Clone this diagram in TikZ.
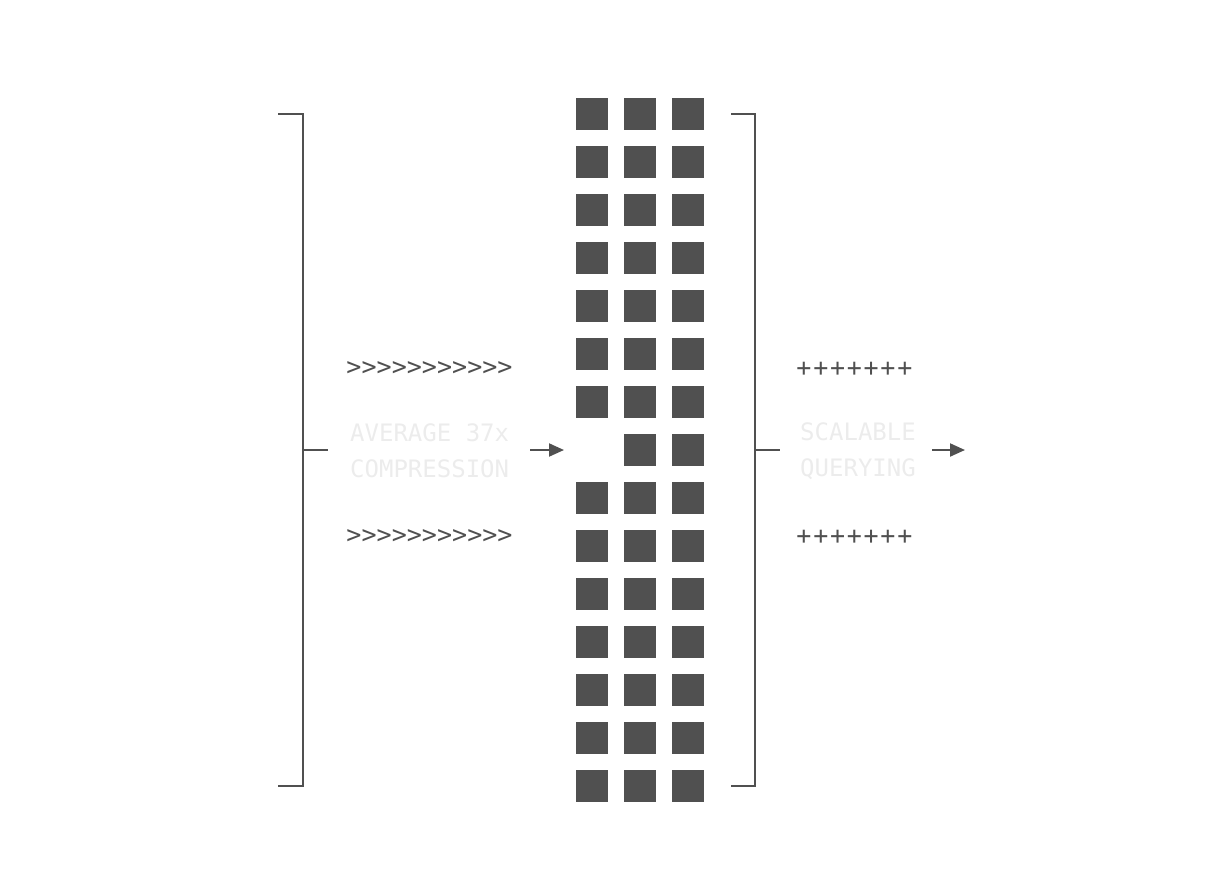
\documentclass[tikz,border=0pt]{standalone}
\usepackage{fontspec}
\setmonofont{DejaVu Sans Mono}
\usetikzlibrary{arrows.meta, positioning}
\definecolor{inkgray}{HTML}{505050}
\definecolor{fadegray}{HTML}{ECECEC}
\tikzset{
    x=1pt, y=-1pt,% one unit is one pixel of the layout, y runs downwards
    cell/.style = {rectangle, fill=inkgray, inner sep=0pt, minimum size=32pt}, % one block of the column grid
    glyph/.style = {inner sep=0pt, text=inkgray, font=\ttfamily\fontsize{25}{36}\selectfont},
    faded/.style = {inner sep=0pt, anchor=west, align=left, text=fadegray, font=\ttfamily\fontsize{24}{36}\selectfont},
    rule/.style = {draw=inkgray, line width=2pt},
    pointer/.style = {rule, -{Triangle[length=15pt, width=13pt]}}
}
\begin{document}
\begin{tikzpicture}
    \useasboundingbox (0,0) rectangle (1212,892);
    % grid of blocks, one gap in the first column
    \foreach \r in {0,...,6,8,9,...,14}
        \node[cell] (cellA\r) at (592,114+48*\r) {};
    \foreach \r in {0,...,14} {
        \node[cell] (cellB\r) at (640,114+48*\r) {};
        \node[cell] (cellC\r) at (688,114+48*\r) {};
    }
    % left bracket
    \coordinate (lbTop) at (278,114);
    \coordinate (lbBot) at (278,786);
    \coordinate (lbMid) at (303,450);
    \coordinate (lbTick) at (328,450);
    \draw[rule] (lbTop) -| (lbMid) |- (lbBot);
    \draw[rule] (lbMid) -- (lbTick);
    % right bracket
    \coordinate (rbTop) at (731,114);
    \coordinate (rbBot) at (731,786);
    \coordinate (rbMid) at (755,450);
    \coordinate (rbTick) at (780,450);
    \draw[rule] (rbTop) -| (rbMid) |- (rbBot);
    \draw[rule] (rbMid) -- (rbTick);
    % labels
    \node[faded] (compress) at (350,451) {AVERAGE 37x\\COMPRESSION};
    \node[faded] (query) at (800,451) {SCALABLE\\QUERYING};
    \foreach \i in {0,...,10} {
        \node[glyph] (chevUp\i) at (354+15.1*\i,369) {>};
        \node[glyph] (chevDn\i) at (354+15.1*\i,537) {>};
    }
    \foreach \i in {0,...,6} {
        \node[glyph] (plusUp\i) at (804+16.8*\i,369) {+};
        \node[glyph] (plusDn\i) at (804+16.8*\i,537) {+};
    }
    % arrows
    \coordinate (inTail) at (530,450);
    \coordinate (inHead) at (564,450);
    \coordinate (outTail) at (932,450);
    \coordinate (outHead) at (965,450);
    \draw[pointer] (inTail) -- (inHead);
    \draw[pointer] (outTail) -- (outHead);
\end{tikzpicture}
\end{document}
